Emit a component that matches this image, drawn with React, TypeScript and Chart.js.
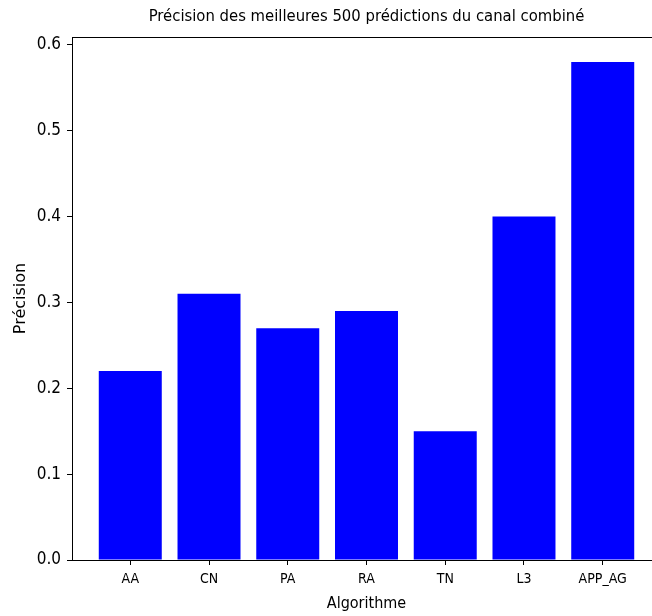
import React, { useEffect, useRef } from "react";
import { Chart, registerables } from "chart.js";

Chart.register(...registerables);

const categories = ["AA", "CN", "PA", "RA", "TN", "L3", "APP_AG"];
const precisionValues = [0.22, 0.31, 0.27, 0.29, 0.15, 0.4, 0.58];
const yTickValues = [0, 0.1, 0.2, 0.3, 0.4, 0.5, 0.6];
const titleText = "Précision des meilleures 500 prédictions du canal combiné";
const xTitle = "Algorithme";
const yTitle = "Précision";

const W = 680;
const H = 616;
const COND = "'DejaVu Sans Condensed', 'DejaVu Sans'";

export default function App() {
  const ref = useRef<HTMLCanvasElement | null>(null);
  useEffect(() => {
    if (!ref.current) return;
    const framePlugin = {
      id: "frame",
      afterDraw(chart: any) {
        const { ctx, chartArea } = chart;
        ctx.save();
        ctx.strokeStyle = "#000";
        ctx.lineWidth = 1;
        ctx.strokeRect(chartArea.left + 0.5, chartArea.top + 0.5, chartArea.right - chartArea.left, chartArea.bottom - chartArea.top);
        ctx.fillStyle = "#000";
        ctx.textAlign = "center";
        ctx.textBaseline = "middle";
        const cx = (chartArea.left + chartArea.right) / 2;
        ctx.font = "16.5px " + COND;
        ctx.fillText(titleText, cx, 17);
        ctx.font = "16px " + COND;
        ctx.fillText(xTitle, cx, 604);
        ctx.save();
        ctx.translate(21, (chartArea.top + chartArea.bottom) / 2);
        ctx.rotate(-Math.PI / 2);
        ctx.font = "16px 'DejaVu Sans'";
        ctx.fillText(yTitle, 0, 0);
        ctx.restore();
        ctx.restore();
      },
    };
    const chart = new Chart(ref.current, {
      type: "bar",
      data: {
        datasets: [
          {
            data: precisionValues.map((v, i) => ({ x: i, y: v })),
            backgroundColor: "#0000ff",
            borderWidth: 0,
            barPercentage: 0.8,
            categoryPercentage: 1,
          },
        ],
      },
      options: {
        responsive: false,
        animation: false,
        layout: { padding: { top: 37, right: W - 661, left: 0, bottom: 0 } },
        plugins: { legend: { display: false }, tooltip: { enabled: false }, title: { display: false } },
        scales: {
          x: {
            type: "linear",
            min: -0.74,
            max: 6.74,
            offset: false,
            grid: { display: true, offset: false, drawOnChartArea: false, drawTicks: true, tickLength: 5, tickColor: "#000" },
            border: { display: true, color: "#000", width: 1 },
            afterBuildTicks: (scale: any) => {
              scale.ticks = categories.map((_, i) => ({ value: i }));
            },
            afterFit: (scale: any) => {
              scale.height = H - 560;
            },
            ticks: {
              autoSkip: false,
              maxRotation: 0,
              padding: 6,
              color: "#000",
              font: { family: COND, size: 14 },
              callback: (v: any) => categories[Math.round(Number(v))] ?? "",
            },
          },
          y: {
            type: "linear",
            min: 0,
            max: 0.609,
            grid: { display: true, drawOnChartArea: false, drawTicks: true, tickLength: 5, tickColor: "#000" },
            border: { display: true, color: "#000", width: 1 },
            afterBuildTicks: (scale: any) => {
              scale.ticks = yTickValues.map((v) => ({ value: v }));
            },
            afterFit: (scale: any) => {
              scale.width = 72;
            },
            ticks: {
              padding: 6,
              color: "#000",
              font: { family: COND, size: 17 },
              callback: (v: any) => Number(v).toFixed(1),
            },
          },
        },
      },
      plugins: [framePlugin],
    } as any);
    return () => chart.destroy();
  }, []);
  return (
    <div style={{ position: "fixed", left: 0, top: 0, width: W, height: H, background: "#fff" }}>
      <canvas ref={ref} width={W} height={H} style={{ width: W, height: H, display: "block" }} />
    </div>
  );
}
